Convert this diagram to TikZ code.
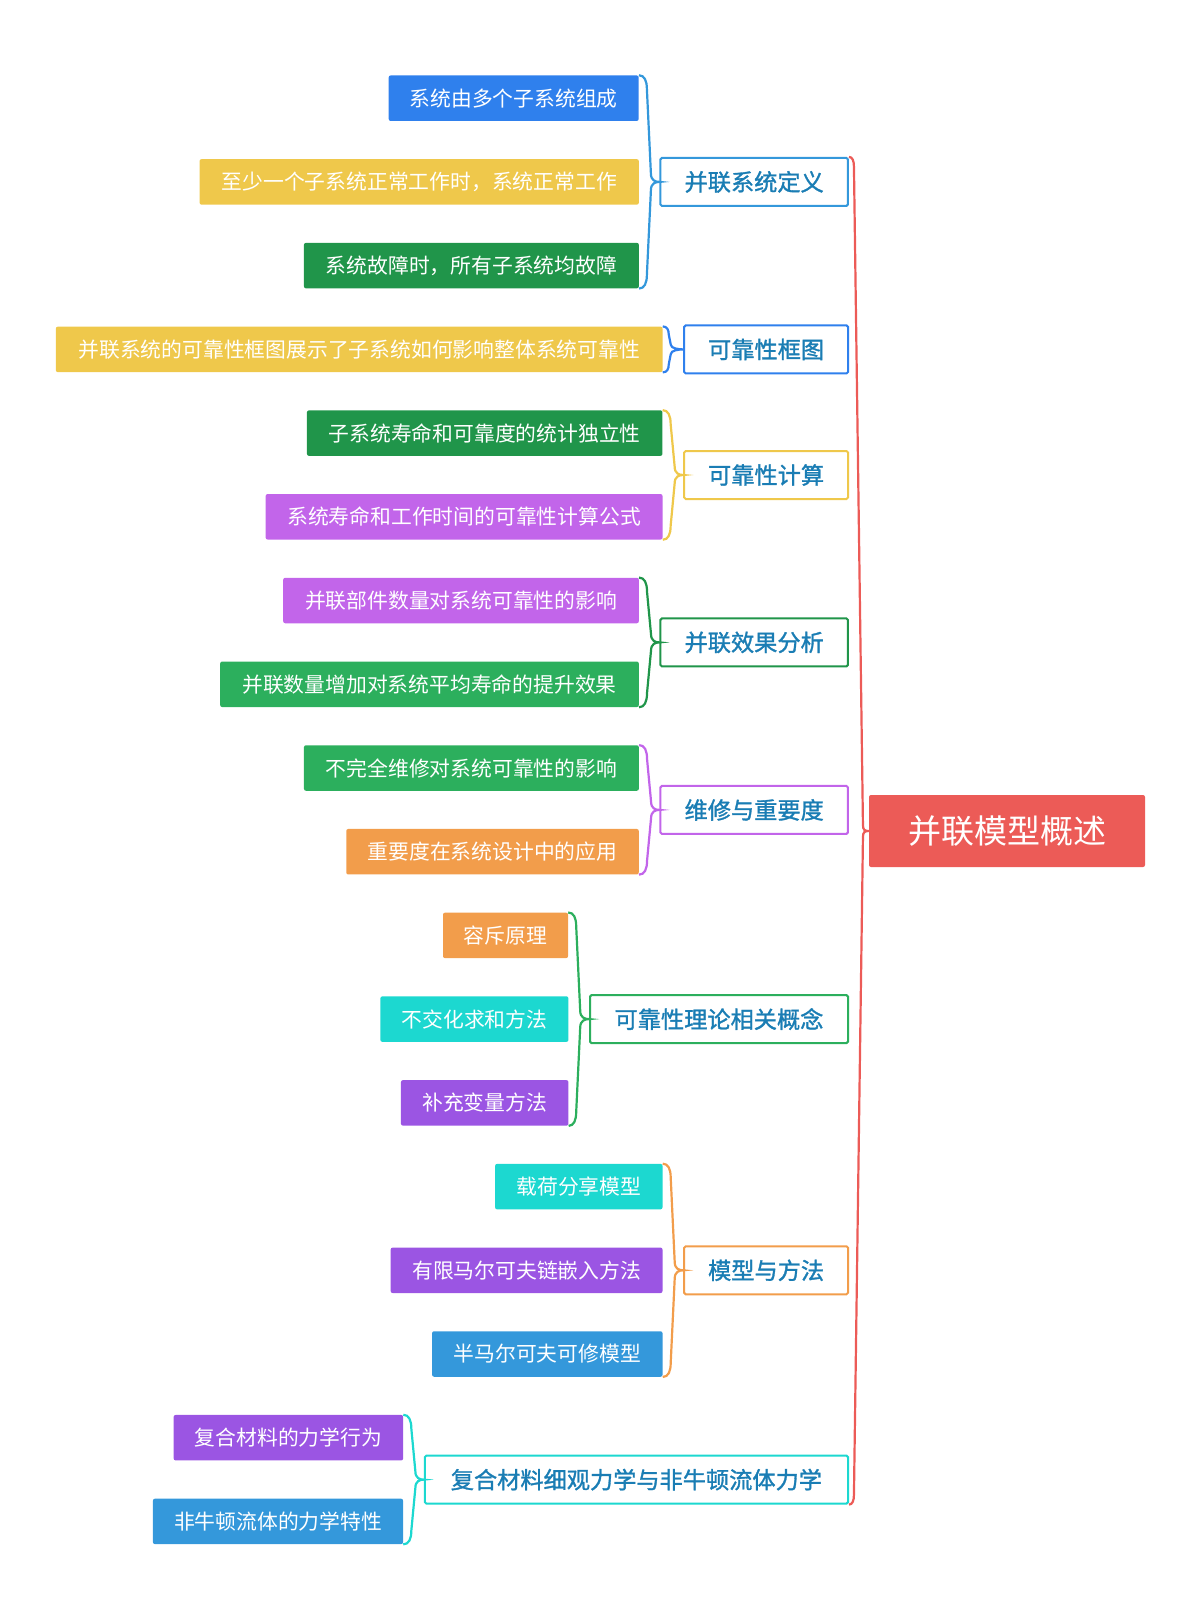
\documentclass[tikz,border=0pt]{standalone}
\usepackage{fontspec}
\setmainfont{Noto Sans CJK SC}
\newfontfamily\brfont[FakeBold=1.3]{Noto Sans CJK SC}
\usetikzlibrary{calc}
\definecolor{cblueA}{HTML}{2F80ED}
\definecolor{cblueB}{HTML}{3498DB}
\definecolor{cyellow}{HTML}{EFC84B}
\definecolor{cdgreen}{HTML}{20954A}
\definecolor{cviolet}{HTML}{C265EA}
\definecolor{cgreen}{HTML}{2CAF5D}
\definecolor{corange}{HTML}{F29D4B}
\definecolor{ccyan}{HTML}{1CD8D0}
\definecolor{cpurple}{HTML}{9B55E3}
\definecolor{cred}{HTML}{EC5B57}
\definecolor{btext}{HTML}{1A7DB4}
\newcommand\mybrace[7]{%
 \draw[#1, line width=2.2pt] let \p1=(#2), \p2=(#3), \p3=(#4) in
 (\p1) .. controls (\x1+#5*0.7,\y1) and (\x1+#5,\y1-#7*0.4) .. (\x1+#5,\y1-#7)
 -- (\x1+#6,\y3+#7*0.6) .. controls (\x1+#6,\y3+#7*0.1) and (\x3-4,\y3) .. (\p3)
 .. controls (\x3-4,\y3) and (\x1+#6,\y3-#7*0.1) .. (\x1+#6,\y3-#7*0.6)
 -- (\x1+#5,\y2+#7) .. controls (\x1+#5,\y2+#7*0.4) and (\x1+#5*0.7,\y2) .. (\p2);}
\tikzset{
 leaf/.style={rectangle, rounded corners=2pt, text=white, font=\fontsize{20.8}{24}\selectfont, minimum height=45.5pt, inner sep=0pt},
 branch/.style={rectangle, rounded corners=1.5pt, draw, line width=2pt, fill=white, text=btext, font=\brfont\fontsize{23.2}{27}\selectfont, minimum height=48pt, inner sep=0pt},
 rootbox/.style={rectangle, rounded corners=2pt, fill=cred, text=white, font=\fontsize{33}{38}\selectfont, minimum width=276pt, minimum height=72pt, inner sep=0pt}
}
\begin{document}
\begin{tikzpicture}[x=1pt,y=-1pt]
\useasboundingbox (0,0) rectangle (1200,1620);
% root
\node[rootbox] (root) at (1007,831) {并联模型概述};
% branches
\node[branch, draw=cblueB, minimum width=187.5pt] (b1) at (754.2,181.9) {并联系统定义};
\node[branch, draw=cblueA, minimum width=163.8pt] (b2) at (766.1,349.4) {可靠性框图};
\node[branch, draw=cyellow, minimum width=163.8pt] (b3) at (766.1,475) {可靠性计算};
\node[branch, draw=cdgreen, minimum width=187.5pt] (b4) at (754.2,642.4) {并联效果分析};
\node[branch, draw=cviolet, minimum width=187.5pt] (b5) at (754.2,809.9) {维修与重要度};
\node[branch, draw=cgreen, minimum width=258pt] (b6) at (719,1019.1) {可靠性理论相关概念};
\node[branch, draw=corange, minimum width=163.8pt] (b7) at (766.1,1270.3) {模型与方法};
\node[branch, draw=ccyan, minimum width=423.2pt] (b8) at (636.4,1479.6) {复合材料细观力学与非牛顿流体力学};
% leaves
\node[leaf, fill=cblueA, minimum width=250pt] (l1a) at (513.7,98.2) {系统由多个子系统组成};
\node[leaf, fill=cyellow, minimum width=439.3pt] (l1b) at (419.2,181.9) {至少一个子系统正常工作时，系统正常工作};
\node[leaf, fill=cdgreen, minimum width=334.9pt] (l1c) at (471.4,265.6) {系统故障时，所有子系统均故障};
\node[leaf, fill=cyellow, minimum width=606.7pt] (l2a) at (359.2,349.4) {并联系统的可靠性框图展示了子系统如何影响整体系统可靠性};
\node[leaf, fill=cdgreen, minimum width=355.5pt] (l3a) at (484.7,433.1) {子系统寿命和可靠度的统计独立性};
\node[leaf, fill=cviolet, minimum width=396.9pt] (l3b) at (464.1,516.8) {系统寿命和工作时间的可靠性计算公式};
\node[leaf, fill=cviolet, minimum width=355.6pt] (l4a) at (461,600.5) {并联部件数量对系统可靠性的影响};
\node[leaf, fill=cgreen, minimum width=418.6pt] (l4b) at (429.5,684.3) {并联数量增加对系统平均寿命的提升效果};
\node[leaf, fill=cgreen, minimum width=334.9pt] (l5a) at (471.4,768) {不完全维修对系统可靠性的影响};
\node[leaf, fill=corange, minimum width=292.5pt] (l5b) at (492.5,851.7) {重要度在系统设计中的应用};
\node[leaf, fill=corange, minimum width=125pt] (l6a) at (505.5,935.4) {容斥原理};
\node[leaf, fill=ccyan, minimum width=188.1pt] (l6b) at (474.4,1019.1) {不交化求和方法};
\node[leaf, fill=cpurple, minimum width=167.5pt] (l6c) at (484.7,1102.9) {补充变量方法};
\node[leaf, fill=ccyan, minimum width=167.4pt] (l7a) at (578.8,1186.6) {载荷分享模型};
\node[leaf, fill=cpurple, minimum width=271.8pt] (l7b) at (526.6,1270.3) {有限马尔可夫链嵌入方法};
\node[leaf, fill=cblueB, minimum width=230.5pt] (l7c) at (547.3,1354) {半马尔可夫可修模型};
\node[leaf, fill=cpurple, minimum width=229.5pt] (l8a) at (288.4,1437.7) {复合材料的力学行为};
\node[leaf, fill=cblueB, minimum width=250.1pt] (l8b) at (278,1521.4) {非牛顿流体的力学特性};
% braces
\mybrace{cred}{b1.north east}{b8.south east}{root.west}{5}{14}{10}
\mybrace{cblueB}{l1a.north east}{l1c.south east}{b1.west}{8}{12}{14}
\mybrace{cblueA}{l2a.north east}{l2a.south east}{b2.west}{6}{8}{8}
\mybrace{cyellow}{l3a.north east}{l3b.south east}{b3.west}{8}{12}{14}
\mybrace{cdgreen}{l4a.north east}{l4b.south east}{b4.west}{8}{12}{14}
\mybrace{cviolet}{l5a.north east}{l5b.south east}{b5.west}{8}{12}{14}
\mybrace{cgreen}{l6a.north east}{l6c.south east}{b6.west}{8}{12}{14}
\mybrace{corange}{l7a.north east}{l7c.south east}{b7.west}{8}{12}{14}
\mybrace{ccyan}{l8a.north east}{l8b.south east}{b8.west}{8}{12}{14}
\end{tikzpicture}
\end{document}
